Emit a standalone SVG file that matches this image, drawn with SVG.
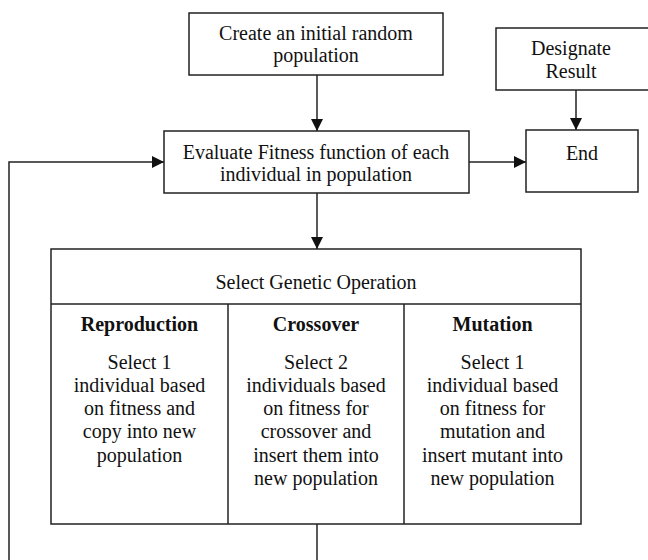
<svg xmlns="http://www.w3.org/2000/svg" width="648" height="560" viewBox="0 0 648 560">
<style>
.box{fill:#fff;stroke:#222;stroke-width:1.5}
.ln{fill:none;stroke:#222;stroke-width:1.5}
text{font-family:"Liberation Serif","Times New Roman",serif;font-size:20px;fill:#111;text-anchor:middle}
.b{font-weight:bold}
</style>
<defs>
<marker id="ah" markerWidth="12" markerHeight="12" viewBox="0 0 12 12" refX="12" refY="6" orient="auto" markerUnits="userSpaceOnUse">
<path d="M0,0 L12,6 L0,12 Z" fill="#111"/>
</marker>
</defs>
<rect width="648" height="560" fill="#fff"/>
<g id="connectors">
<line class="ln" x1="317" y1="75" x2="317" y2="131" marker-end="url(#ah)"/>
<line class="ln" x1="576" y1="90" x2="576" y2="130" marker-end="url(#ah)"/>
<line class="ln" x1="469" y1="162" x2="526" y2="162" marker-end="url(#ah)"/>
<line class="ln" x1="317" y1="193" x2="317" y2="249" marker-end="url(#ah)"/>
<polyline class="ln" points="9,560 9,162 164,162" marker-end="url(#ah)"/>
<line class="ln" x1="317" y1="524" x2="317" y2="560"/>
</g>
<g id="create">
<rect class="box" x="189" y="13" width="254" height="62"/>
<text x="316" y="40">Create an initial random</text>
<text x="316" y="62">population</text>
</g>
<g id="designate">
<rect class="box" x="496" y="28" width="155" height="62"/>
<text x="571" y="55">Designate</text>
<text x="571" y="78">Result</text>
</g>
<g id="evaluate">
<rect class="box" x="164" y="131" width="305" height="62"/>
<text x="316" y="159">Evaluate Fitness function of each</text>
<text x="316" y="181">individual in population</text>
</g>
<g id="end">
<rect class="box" x="526" y="130" width="112" height="62"/>
<text x="582" y="160">End</text>
</g>
<g id="select">
<rect class="box" x="51" y="249" width="530" height="275"/>
<line class="ln" x1="51" y1="304" x2="581" y2="304"/>
<line class="ln" x1="228" y1="304" x2="228" y2="524"/>
<line class="ln" x1="404" y1="304" x2="404" y2="524"/>
<text x="316" y="289">Select Genetic Operation</text>
<text class="b" x="139.5" y="331">Reproduction</text>
<text x="139.5" y="369">Select 1</text>
<text x="139.5" y="392">individual based</text>
<text x="139.5" y="415">on fitness and</text>
<text x="139.5" y="438">copy into new</text>
<text x="139.5" y="462">population</text>
<text class="b" x="316" y="331">Crossover</text>
<text x="316" y="369">Select 2</text>
<text x="316" y="392">individuals based</text>
<text x="316" y="415">on fitness for</text>
<text x="316" y="438">crossover and</text>
<text x="316" y="462">insert them into</text>
<text x="316" y="485">new population</text>
<text class="b" x="492.5" y="331">Mutation</text>
<text x="492.5" y="369">Select 1</text>
<text x="492.5" y="392">individual based</text>
<text x="492.5" y="415">on fitness for</text>
<text x="492.5" y="438">mutation and</text>
<text x="492.5" y="462">insert mutant into</text>
<text x="492.5" y="485">new population</text>
</g>
</svg>
